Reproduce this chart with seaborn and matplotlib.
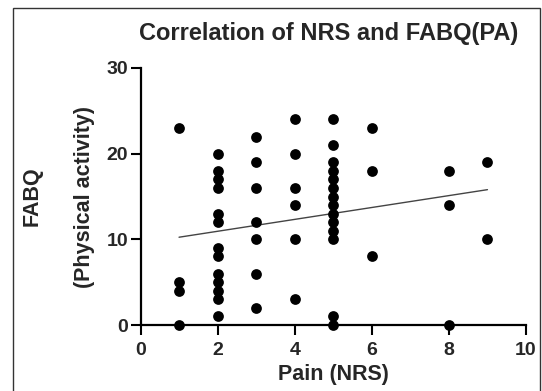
import matplotlib
matplotlib.use("Agg")
import matplotlib.pyplot as plt
import seaborn as sns
import pandas as pd
from matplotlib.patches import Rectangle

# Data
pain_1 = [23, 5, 4, 0]
pain_2 = [20, 18, 17, 16, 13, 12, 9, 8, 6, 5, 4, 3, 1]
pain_3 = [22, 19, 16, 12, 10, 6, 2]
pain_4 = [24, 20, 16, 14, 10, 3]
pain_5 = [24, 21, 19, 18, 17, 16, 15, 14, 13, 12, 11, 10, 1, 0]
pain_6 = [23, 18, 8]
pain_8 = [18, 14, 0]
pain_9 = [19, 10]

groups = {1: pain_1, 2: pain_2, 3: pain_3, 4: pain_4, 5: pain_5,
          6: pain_6, 8: pain_8, 9: pain_9}
nrs = []
fabq = []
for k, vals in groups.items():
    nrs += [k] * len(vals)
    fabq += vals
df = pd.DataFrame({"NRS": nrs, "FABQ": fabq})

x_ticks = [0, 2, 4, 6, 8, 10]
y_ticks = [0, 10, 20, 30]

sns.set_style("ticks")
plt.rcParams["font.family"] = ["Liberation Sans", "DejaVu Sans"]
plt.rcParams["font.weight"] = "bold"

fig = plt.figure(figsize=(5.42, 3.91), dpi=100)
ax = fig.add_axes([140.5 / 542, 1 - 325 / 391, (526 - 140.5) / 542, (325 - 68) / 391])

sns.regplot(data=df, x="NRS", y="FABQ", scatter=False, ci=None, ax=ax,
            line_kws={"color": "#444444", "linewidth": 1.0})
sns.scatterplot(data=df, x="NRS", y="FABQ", ax=ax, color="black", s=60,
                edgecolor="black", linewidth=0, clip_on=False, zorder=5)

ax.set_xlim(0, 10)
ax.set_ylim(0, 30)
ax.set_xticks(x_ticks)
ax.set_yticks(y_ticks)
ax.tick_params(axis="both", labelsize=14, width=1.5, length=7, color="black",
               direction="out", pad=2)
ax.tick_params(axis="x", pad=5)
for lab in ax.get_xticklabels() + ax.get_yticklabels():
    lab.set_fontweight("bold")
for s in ["top", "right"]:
    ax.spines[s].set_visible(False)
for s in ["left", "bottom"]:
    ax.spines[s].set_linewidth(1.6)
    ax.spines[s].set_color("black")

ax.set_xlabel("Pain (NRS)", fontsize=15.5, fontweight="bold", labelpad=4)
ax.set_ylabel("FABQ\n\n(Physical activity)", fontsize=15.5, fontweight="bold",
              labelpad=8, linespacing=1.33)
ax.set_title("Correlation of NRS and FABQ(PA)", fontsize=17, fontweight="bold",
             pad=20, x=0.487)

fig.patches.append(Rectangle((13 / 542, -0.01), (540 - 13) / 542, 1 - 8 / 391 + 0.01,
                             transform=fig.transFigure, fill=False,
                             edgecolor="#333333", linewidth=1.0))

fig.savefig("out.png", dpi=100)
